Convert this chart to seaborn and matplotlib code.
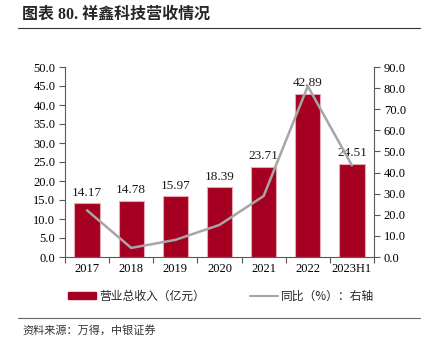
import matplotlib
matplotlib.use("Agg")
import matplotlib.pyplot as plt
import seaborn as sns
import numpy as np
import pandas as pd
from matplotlib.patches import Patch
from matplotlib.lines import Line2D

years = ["2017", "2018", "2019", "2020", "2021", "2022", "2023H1"]
revenue = [14.17, 14.78, 15.97, 18.39, 23.71, 42.89, 24.51]
yoy = [22.1, 4.3, 8.1, 15.2, 28.9, 80.9, 43.4]
left_ticks = [0, 5, 10, 15, 20, 25, 30, 35, 40, 45, 50]
right_ticks = [0, 10, 20, 30, 40, 50, 60, 70, 80, 90]

sns.set_theme(style="white")
plt.rcParams['font.family'] = ['Liberation Serif', 'Noto Sans CJK SC']
plt.rcParams['axes.unicode_minus'] = False

BAR = "#A50021"
LINE = "#A6A6A6"
AX = "#595959"

df = pd.DataFrame({"year": years, "rev": revenue, "yoy": yoy, "pos": np.arange(len(years))})

fig = plt.figure(figsize=(4.23, 3.54), dpi=100)
ax = fig.add_axes([65/423, 1-257/354, (374-65)/423, (257-67)/354])

sns.barplot(data=df, x="year", y="rev", color=BAR, width=0.57, saturation=1,
            edgecolor="#E9A9B2", linewidth=0.8, ax=ax)
ax.set_ylim(0, 50)
ax.set_xlim(-0.5, len(years) - 0.5)
ax.set_yticks(left_ticks)
ax.set_yticklabels([f"{v:.1f}" for v in left_ticks], fontsize=9, color="black")
ax.set_xlabel("")
ax.set_ylabel("")
ax.set_xticks(np.arange(len(years)))
ax.set_xticklabels(years, fontsize=9, color="black")
ax.tick_params(axis="x", length=0, pad=4)
ax.set_xticks(np.arange(len(years) + 1) - 0.5, minor=True)
ax.tick_params(axis="x", which="minor", length=4, direction="out", color=AX, width=0.8, bottom=True)
ax.tick_params(axis="y", length=4, direction="out", color=AX, width=0.8, left=True, pad=3)

for i, v in enumerate(revenue):
    ax.text(i, v + 1.2, f"{v:.2f}", ha="center", va="bottom", fontsize=9.5, color="#1a1a1a")

for s in ["top", "right"]:
    ax.spines[s].set_visible(False)
for s in ["left", "bottom"]:
    ax.spines[s].set_color(AX)
    ax.spines[s].set_linewidth(0.8)

ax2 = ax.twinx()
sns.lineplot(data=df, x="pos", y="yoy", color=LINE, linewidth=1.8, ax=ax2)
ax2.set_ylim(0, 90)
ax2.set_xlim(-0.5, len(years) - 0.5)
ax2.set_yticks(right_ticks)
ax2.set_yticklabels([f"{v:.1f}" for v in right_ticks], fontsize=9, color="black")
ax2.set_ylabel("")
ax2.set_xlabel("")
ax2.tick_params(axis="y", length=4, direction="out", color=AX, width=0.8, right=True, pad=3)
for s in ["top", "left", "bottom"]:
    ax2.spines[s].set_visible(False)
ax2.spines["right"].set_color(AX)
ax2.spines["right"].set_linewidth(0.8)

handles = [Patch(facecolor=BAR, edgecolor=BAR, label="营业总收入（亿元）"),
           Line2D([0], [0], color=LINE, linewidth=1.5, label="同比（%）：右轴")]
fig.legend(handles=handles, loc="center", bbox_to_anchor=(221/423, 1-296/354), ncol=2,
           frameon=False, handlelength=2.4, handleheight=0.6,
           columnspacing=3.8, handletextpad=0.25,
           prop={"family": ["Noto Sans CJK SC"], "size": 8.5})

fig.text(22/423, 1-15/354, "图表 80. 祥鑫科技营收情况", fontsize=11.5, fontweight="bold",
         ha="left", va="center", family=["Liberation Serif", "Noto Sans CJK SC"])
fig.add_artist(Line2D([18/423, 420/423], [1-28/354, 1-28/354], color="#333333", linewidth=0.8))
fig.add_artist(Line2D([18/423, 420/423], [1-318/354, 1-318/354], color="#666666", linewidth=0.8))
fig.text(22/423, 1-330/354, "资料来源：万得，中银证券", fontsize=8, style="italic",
         ha="left", va="center", family=["Noto Sans CJK SC"], color="#333333")

fig.savefig("out.png", dpi=100)
